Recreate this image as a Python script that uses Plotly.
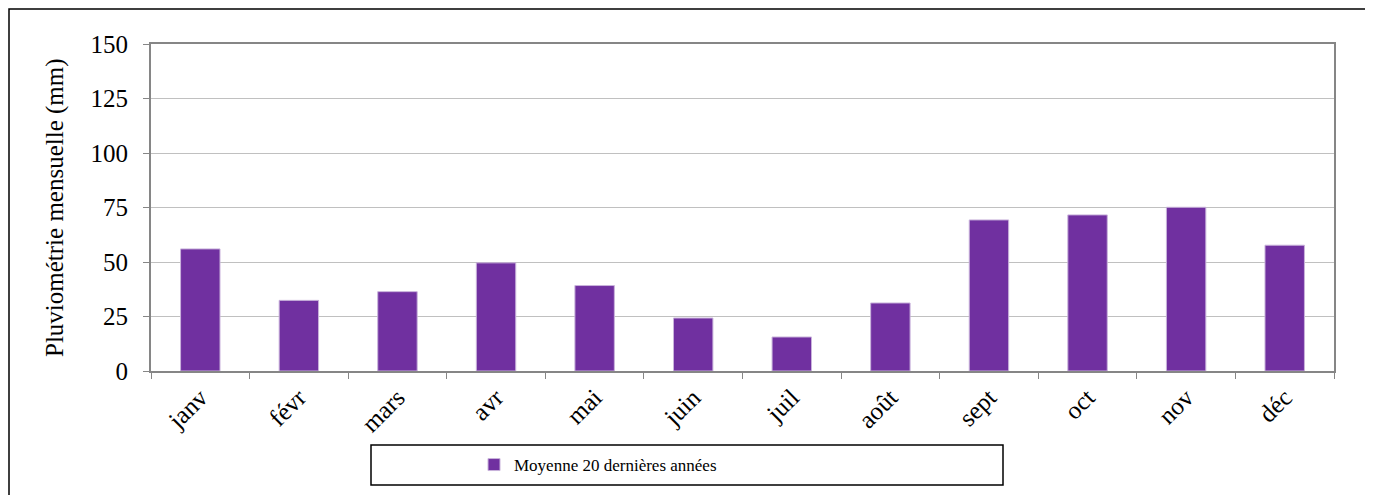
import plotly.graph_objects as go

months = ["janv", "févr", "mars", "avr", "mai", "juin",
          "juil", "août", "sept", "oct", "nov", "déc"]
rain_mm = [56, 32.4, 36.4, 49.6, 39.2, 24.3, 15.6, 31.2, 69.3, 71.6, 75.1, 57.7]
y_ticks = [0, 25, 50, 75, 100, 125, 150]

FONT = "Liberation Serif"
PURPLE = "#7030A0"
AXIS = "#868686"

# the page puts the figure 8px in from the window corner
OFF = 8
W, H = 1373 - OFF, 495 - OFF
L, R, T, B = 151 - OFF, 39, 44 - OFF, 124
pw, ph = W - L - R, H - T - B


def px_x(x):
    return (x - OFF - L) / pw


def px_y(y):
    return (H - B - (y - OFF)) / ph


fig = go.Figure()
fig.add_trace(go.Bar(
    x=months, y=rain_mm, name="Moyenne 20 dernières années",
    marker=dict(color=PURPLE, line=dict(color="#c9b3db", width=1)),
))

fig.update_layout(
    width=W, height=H,
    margin=dict(l=L, r=R, t=T, b=B),
    paper_bgcolor="white", plot_bgcolor="white",
    font=dict(family=FONT, size=25, color="black"),
    bargap=0.6,
    showlegend=True,
    legend=dict(orientation="h", x=px_x(474), xanchor="left",
                y=px_y(465), yanchor="middle", bgcolor="rgba(0,0,0,0)",
                font=dict(size=17), itemwidth=30),
)

fig.update_xaxes(
    type="category", tickangle=-45, tickson="boundaries",
    ticks="outside", ticklen=6, tickcolor=AXIS,
    showline=True, linecolor=AXIS, linewidth=2, mirror=True,
    showgrid=False, tickfont=dict(size=25),
)
fig.update_yaxes(
    range=[0, 150], tickvals=y_ticks, ticks="outside", ticklen=6,
    tickcolor=AXIS, showline=True, linecolor=AXIS, linewidth=2, mirror=True,
    gridcolor="#c0c0c0", gridwidth=1, zeroline=False,
    tickfont=dict(size=25), ticklabelstandoff=10,
)

fig.add_annotation(
    text="Pluviométrie mensuelle (mm)", textangle=-90,
    xref="paper", yref="paper", x=px_x(55), y=px_y(208),
    xanchor="center", yanchor="middle",
    showarrow=False, font=dict(size=25),
)

# outer chart frame
fig.add_shape(type="rect", xref="paper", yref="paper",
              x0=px_x(9), x1=px_x(1369), y0=px_y(505), y1=px_y(9),
              line=dict(color="black", width=1.5), layer="below")
# legend box
fig.add_shape(type="rect", xref="paper", yref="paper",
              x0=px_x(371), x1=px_x(1003), y0=px_y(485), y1=px_y(445),
              line=dict(color="black", width=1.5))

fig.write_html("out.html")
